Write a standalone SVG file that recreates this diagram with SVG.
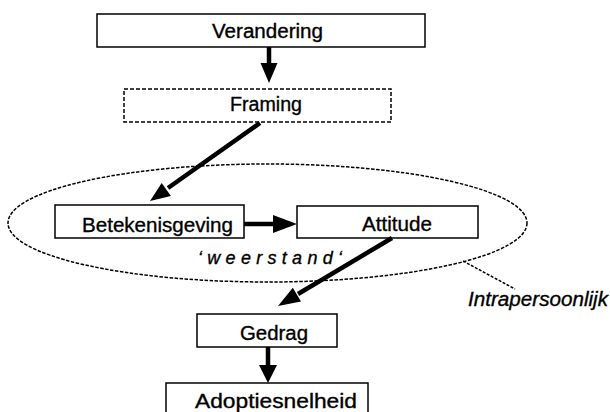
<svg xmlns="http://www.w3.org/2000/svg" width="610" height="412" viewBox="0 0 610 412">
<style>
.box{fill:#fff;stroke:#000;stroke-width:1.5}
.dash{fill:none;stroke:#000;stroke-width:1.5;stroke-dasharray:4 2}
.ell{fill:none;stroke:#000;stroke-width:1.5;stroke-dasharray:3.5 1.5}
.lbl{font-family:"Liberation Sans",Arial,sans-serif;font-size:20px;fill:#000;stroke:#000;stroke-width:0.35}
.it{font-style:italic}
.sm{font-size:18px}
.ln{stroke:#000;stroke-width:4.5;fill:none}
.hd{fill:#000;stroke:none}
</style>
<rect width="610" height="412" fill="#fff"/>
<g id="ellipse-intrapersoonlijk">
<ellipse class="ell" cx="267.5" cy="223" rx="259.5" ry="59"/>
<text class="lbl it sm" x="198" y="264" textLength="144" lengthAdjust="spacing">‘weerstand‘</text>
<line x1="463" y1="261" x2="515" y2="289" stroke="#000" stroke-width="1.5" stroke-dasharray="3 1.5"/>
<text class="lbl it" x="468" y="306" textLength="140" lengthAdjust="spacingAndGlyphs">Intrapersoonlijk</text>
</g>
<g id="node-verandering">
<rect class="box" x="97" y="14" width="328" height="33"/>
<text class="lbl" x="212" y="38" textLength="111" lengthAdjust="spacingAndGlyphs">Verandering</text>
</g>
<g id="node-framing">
<rect class="dash" x="124" y="89" width="267" height="33"/>
<text class="lbl" x="230" y="111" textLength="72" lengthAdjust="spacingAndGlyphs">Framing</text>
</g>
<g id="node-betekenisgeving">
<rect class="box" x="55" y="205" width="189" height="33"/>
<text class="lbl" x="82" y="232" textLength="151" lengthAdjust="spacingAndGlyphs">Betekenisgeving</text>
</g>
<g id="node-attitude">
<rect class="box" x="297" y="206" width="181" height="32"/>
<text class="lbl" x="362" y="231" textLength="70" lengthAdjust="spacingAndGlyphs">Attitude</text>
</g>
<g id="node-gedrag">
<rect class="box" x="197" y="314" width="140" height="33"/>
<text class="lbl" x="240" y="340" textLength="68" lengthAdjust="spacingAndGlyphs">Gedrag</text>
</g>
<g id="node-adoptiesnelheid">
<rect class="box" x="166" y="383" width="202" height="40"/>
<text class="lbl" x="195" y="408" textLength="162" lengthAdjust="spacingAndGlyphs">Adoptiesnelheid</text>
</g>
<g id="connectors">
<line class="ln" x1="269" y1="47" x2="269" y2="65"/>
<polygon class="hd" points="260.5,63 277.5,63 269,83"/>
<line class="ln" x1="260" y1="123" x2="168" y2="188"/>
<polygon class="hd" points="170.9,195.9 161.7,182.9 150,201"/>
<line class="ln" x1="244" y1="224" x2="276" y2="224"/>
<polygon class="hd" points="273,215 273,233 297,224"/>
<line class="ln" x1="392" y1="238" x2="298" y2="294"/>
<polygon class="hd" points="301,301.6 292.8,287.8 278,306"/>
<line class="ln" x1="268" y1="347" x2="268" y2="367"/>
<polygon class="hd" points="259,365 277,365 268,383"/>
</g>
</svg>
